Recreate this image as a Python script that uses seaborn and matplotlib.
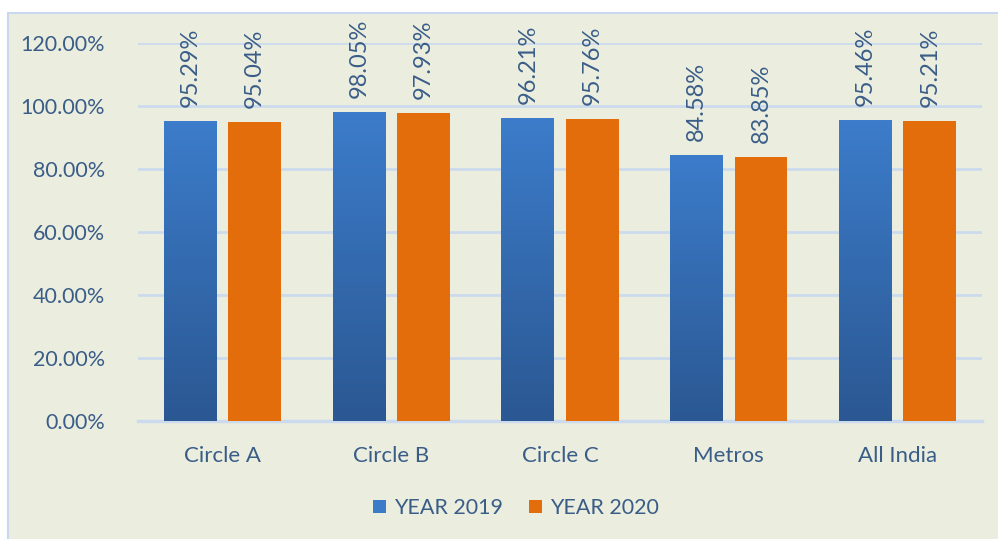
import numpy as np
import pandas as pd
import seaborn as sns
import matplotlib.pyplot as plt
from matplotlib.patches import Rectangle, Patch
from matplotlib.colors import LinearSegmentedColormap
from matplotlib.ticker import FuncFormatter

# data
regions = ['Circle A', 'Circle B', 'Circle C', 'Metros', 'All India']
year_2019 = [0.9529, 0.9805, 0.9621, 0.8458, 0.9546]
year_2020 = [0.9504, 0.9793, 0.9576, 0.8385, 0.9521]
series = ['YEAR 2019', 'YEAR 2020']

df = pd.DataFrame({
    'region': regions * 2,
    'value': year_2019 + year_2020,
    'series': [series[0]] * len(regions) + [series[1]] * len(regions),
})

BG = '#EBEEDF'
GRID = '#CCDAEE'
TXT = '#3A5D88'
BLUE = '#3B7BC8'
ORANGE = '#E36C0B'

sns.set_theme(style='white')
plt.rcParams['font.family'] = ['Lato', 'DejaVu Sans']

fig = plt.figure(figsize=(9.98, 5.39), dpi=100)
# chart area panel (behind the axes)
fig.patches.append(Rectangle((8 / 998, -0.01), 1.0, 1 - 13 / 539 + 0.01,
                             transform=fig.transFigure, facecolor=BG,
                             edgecolor='#C9D8EE', linewidth=1.5, zorder=-5))

ax = fig.add_axes([138 / 998, 118 / 539, 844 / 998, 378 / 539])
ax.set_facecolor('none')

sns.barplot(data=df, x='region', y='value', hue='series', ax=ax,
            palette=[BLUE, ORANGE], width=0.764, gap=0.18,
            saturation=1, legend=False, zorder=3)

# gradient on the 2019 bars
grad = LinearSegmentedColormap.from_list('g', ['#2B5893', '#3C7CCA'])
for p in ax.patches[:len(regions)]:
    x0, w, h = p.get_x(), p.get_width(), p.get_height()
    im = ax.imshow(np.linspace(0, 1, 100).reshape(-1, 1), cmap=grad,
                   extent=[x0, x0 + w, 0, h], origin='lower',
                   aspect='auto', zorder=3.5)
    im.set_clip_path(p)
for p in ax.patches:
    p.set_edgecolor('none')

# rotated value labels
for p in ax.patches:
    h = p.get_height()
    ax.annotate(f'{h * 100:.2f}%', (p.get_x() + p.get_width() / 2, h),
                xytext=(0, 10), textcoords='offset points',
                rotation=90, ha='center', va='bottom',
                fontsize=17, color=TXT)

ax.set_xlim(-0.5, len(regions) - 0.5)
ax.set_ylim(0, 1.2)
ax.set_yticks(np.arange(0, 1.21, 0.2))
ax.yaxis.set_major_formatter(FuncFormatter(lambda v, _: f'{v * 100:.2f}%'))
ax.grid(axis='y', color=GRID, linewidth=2, zorder=0)
ax.set_axisbelow(True)
for s in ['top', 'right', 'left']:
    ax.spines[s].set_visible(False)
ax.spines['bottom'].set_color(GRID)
ax.spines['bottom'].set_linewidth(2.5)
ax.tick_params(axis='both', length=0, colors=TXT)
ax.tick_params(axis='y', pad=24, labelsize=15.5)
ax.tick_params(axis='x', pad=18, labelsize=16)
ax.set_xlabel('')
ax.set_ylabel('')

handles = [Patch(facecolor=BLUE, edgecolor='none', label=series[0]),
           Patch(facecolor=ORANGE, edgecolor='none', label=series[1])]
fig.legend(handles=handles, loc='center', bbox_to_anchor=(516 / 998, 1 - 508 / 539),
           ncol=2, frameon=False, fontsize=15.5, labelcolor=TXT,
           handlelength=0.6, handleheight=0.6, handletextpad=0.4,
           columnspacing=1.2)

fig.savefig('out.png', dpi=100)
